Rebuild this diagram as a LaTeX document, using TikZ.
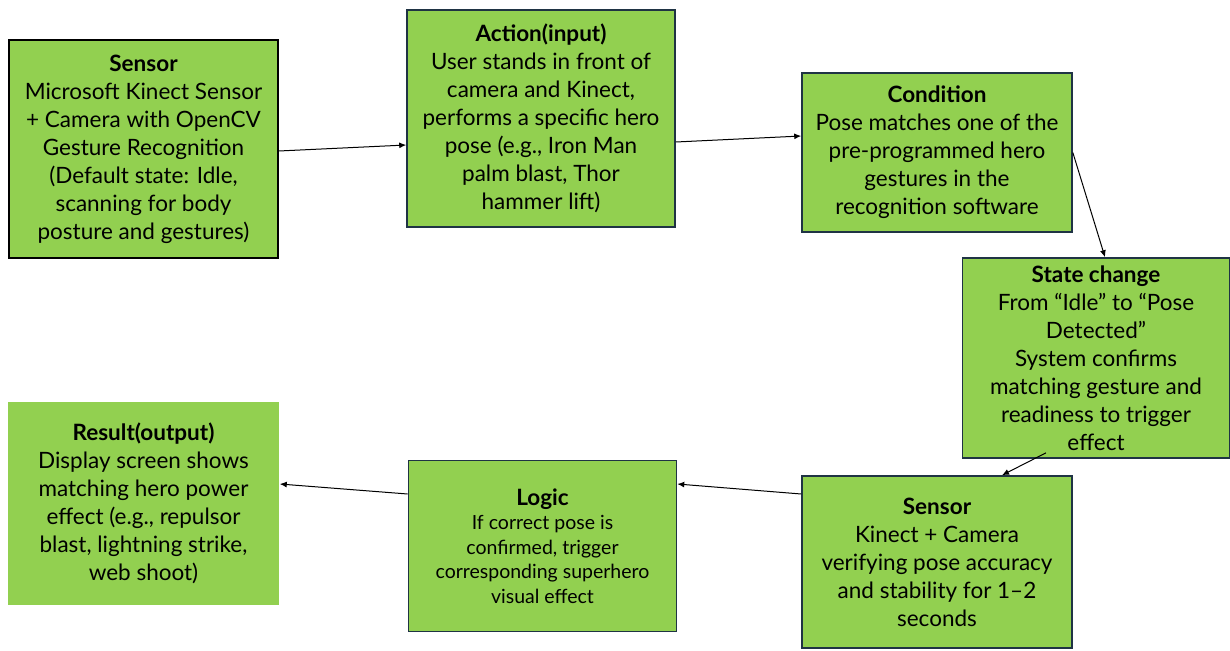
\documentclass[tikz,border=0pt]{standalone}
\usepackage{fontspec}
\setmainfont{Lato}
\usetikzlibrary{arrows.meta}
\definecolor{boxgreen}{HTML}{92D050}
\definecolor{boxline}{HTML}{1F3344}

\begin{document}
\begin{tikzpicture}[x=1pt,y=-1pt]
\useasboundingbox (0,0) rectangle (1230,650);
\begin{scope}[every node/.style={fill=boxgreen,draw=boxline,line width=1.6pt,align=center,inner sep=0pt,
              font=\fontsize{22.5}{28}\selectfont}]
    \node (S1)[draw=black,minimum width=269pt,minimum height=218pt] at (143.5,149)
        {\textbf{Sensor}\\Microsoft Kinect Sensor\\+ Camera with OpenCV\\Gesture Recognition\\(Default state: Idle,\\scanning for body\\posture and gestures)};
    \node (A1)[minimum width=268pt,minimum height=217pt] at (541,118.5)
        {\textbf{Action(input)}\\User stands in front of\\camera and Kinect,\\performs a specific hero\\pose (e.g., Iron Man\\palm blast, Thor\\hammer lift)};
    \node (C1)[minimum width=270pt,minimum height=159pt] at (937,152.5)
        {\textbf{Condition}\\Pose matches one of the\\pre-programmed hero\\gestures in the\\recognition software};
    \node (ST)[minimum width=267pt,minimum height=200pt] at (1096,358)
        {\textbf{State change}\\From “Idle” to “Pose\\Detected”\\System confirms\\matching gesture and\\readiness to trigger\\effect};
    \node (S2)[minimum width=270pt,minimum height=172pt] at (937,562)
        {\textbf{Sensor}\\Kinect + Camera\\verifying pose accuracy\\and stability for 1–2\\seconds};
    \node (L1)[minimum width=268pt,minimum height=171pt,font=\fontsize{19.5}{24.5}\selectfont] at (542.5,546)
        {{\fontsize{22.5}{30}\selectfont\textbf{Logic}}\\If correct pose is\\confirmed, trigger\\corresponding superhero\\visual effect};
    \node (R1)[draw=none,minimum width=271pt,minimum height=203pt] at (143.5,503.5)
        {\textbf{Result(output)}\\Display screen shows\\matching hero power\\effect (e.g., repulsor\\blast, lightning strike,\\web shoot)};
\end{scope}

\begin{scope}[every edge/.style={draw=black,line width=1pt,-{Latex[length=7pt,width=6pt]}}]
    \path ([yshift=-2pt]S1.east) edge ([yshift=-26.5pt]A1.west);
    \path ([yshift=-23.5pt]A1.east) edge ([yshift=16.5pt]C1.west);
    \path (C1.east) edge ([xshift=9pt]ST.north);
    \path ([xshift=-50pt,yshift=6pt]ST.south) edge ([xshift=65pt]S2.north);
    \path ([yshift=68pt]S2.west) edge ([yshift=62pt]L1.east);
    \path ([yshift=52pt]L1.west) edge ([yshift=19.5pt]R1.east);
\end{scope}
\end{tikzpicture}
\end{document}
